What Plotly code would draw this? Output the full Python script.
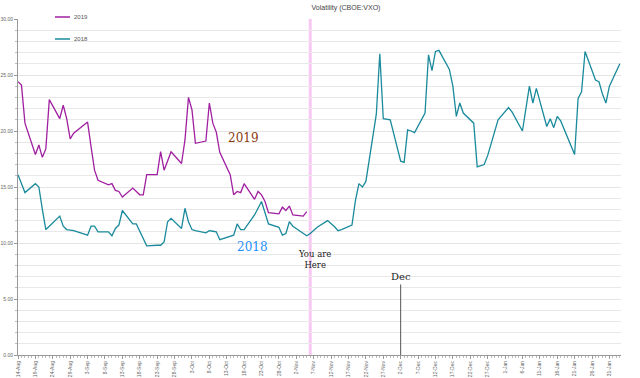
import pandas as pd
import plotly.graph_objects as go

# ---- data -------------------------------------------------------------
holidays = ["2019-09-02", "2019-11-28", "2019-12-25", "2020-01-01", "2020-01-20"]
trade_days = [d for d in pd.bdate_range("2019-08-14", "2020-02-03")
              if d.strftime("%Y-%m-%d") not in holidays]

vxo_2019 = [
    24.4, 24.1, 20.7, 17.9, 18.75, 17.65, 18.4, 22.8, 21.1, 22.3, 21.1, 19.3, 19.8,
    20.8, 18.6, 16.5, 15.6, 15.2, 15.3, 14.7, 14.6, 14.1, 14.9, 14.6, 14.3, 14.3,
    16.1, 16.1, 18.15, 16.5, 17.3, 18.15, 17.1,
    19.2, 23.0, 21.9, 18.9, 19.1, 22.5, 20.7, 19.9, 18.1, 16.1, 14.3, 14.6, 14.5,
    15.3, 13.9, 14.6, 14.3, 13.7, 12.7, 12.6, 13.2, 12.9, 13.3,
    12.5, 12.4, 12.8,
]

vxo_2018 = [
    16.1, 15.3, 14.5, 15.3, 15.0, 13.0, 11.2, 11.5, 12.4, 11.5, 11.2, 11.15, 11.1,
    10.7, 11.5, 11.5, 11.0, 11.0, 10.65, 11.3, 11.6, 12.9, 11.7, 11.7, 11.0, 10.3,
    9.75, 9.8, 9.8, 10.1, 11.9, 12.2, 11.3,
    13.1, 11.9, 11.2, 11.1, 10.9, 11.1, 11.05, 11.0, 10.3, 10.6, 10.7, 11.7, 11.2,
    11.2, 12.5, 13.1, 13.7, 12.7, 11.7, 11.4, 10.7, 10.85, 11.9,
    11.5, 10.8, 10.65, 10.85, 11.1, 11.4, 12.0, 11.75, 11.45, 11.1, 11.2, 11.6,
    13.8, 15.3, 15.0, 15.5, 21.5, 26.9, 21.1, 21.0,
    17.3, 17.2, 20.1, 20.0, 19.85, 21.6, 26.8, 25.4, 27.1, 27.2, 25.5, 24.0, 21.3,
    22.5, 21.6, 20.7, 16.8, 17.0, 17.8, 21.0, 21.4,
    22.1, 21.7, 20.0, 22.0, 24.0, 22.5, 23.8, 20.4, 21.1, 20.3, 21.3, 20.9, 17.9,
    22.9, 23.5, 27.1, 24.55, 24.4, 23.3, 22.5, 24.0,
    26.0,
]

series_names = ["2019", "2018"]
series_colors = ["#A01FA0", "#1A8A9C"]
series_values = [vxo_2019, vxo_2018]
you_are_here = "2019-11-06"
dec_marker = "2019-12-02"

# ---- figure -----------------------------------------------------------
W, H = 640, 378
ML, MR, MT, MB = 18, 19, 19, 23
PW, PH = W - ML - MR, H - MT - MB


def px_x(px):
    return (px - ML) / PW


def px_y(py):
    return (H - MB - py) / PH


fig = go.Figure()
for name, color, vals in zip(series_names, series_colors, series_values):
    fig.add_trace(go.Scatter(
        x=trade_days[:len(vals)], y=vals, mode="lines", name=name,
        line=dict(color=color, width=1.3)))

# legend (drawn in the top-left corner like the original)
for i, (name, color) in enumerate(zip(series_names, series_colors)):
    ly = px_y(17 + 22 * i)
    fig.add_shape(type="line", xref="paper", yref="paper",
                  x0=px_x(55), x1=px_x(70), y0=ly, y1=ly,
                  line=dict(color=color, width=1.5))
    fig.add_annotation(xref="paper", yref="paper", x=px_x(72), y=ly, text=name,
                       showarrow=False, xanchor="left", yanchor="middle",
                       font=dict(size=6, color="#555555"))

fig.add_shape(type="line", xref="x", yref="y", x0=you_are_here, x1=you_are_here,
              y0=0, y1=30.3, line=dict(color="#F7C8F2", width=3), layer="below")
fig.add_shape(type="line", xref="x", yref="y", x0=dec_marker, x1=dec_marker,
              y0=0, y1=6.3, line=dict(color="#555555", width=1))

serif = "DejaVu Serif"
fig.add_annotation(x="2019-10-17 18:00", y=19.4, text="2019", showarrow=False,
                   font=dict(family=serif, size=12, color="#8B3A10"))
fig.add_annotation(x="2019-10-20 12:00", y=9.6, text="2018", showarrow=False,
                   font=dict(family=serif, size=12, color="#1E8FFF"))
fig.add_annotation(x="2019-11-07 08:00", y=8.5, text="You are<br>Here", showarrow=False,
                   font=dict(family=serif, size=8.5, color="#222222"))
fig.add_annotation(x=dec_marker, y=7.0, text="Dec", showarrow=False,
                   font=dict(family=serif, size=10, color="#222222"))

fig.update_layout(
    width=W, height=H,
    template="none",
    paper_bgcolor="white", plot_bgcolor="white",
    margin=dict(l=ML, r=MR, t=MT, b=MB),
    font=dict(family="Liberation Sans", size=6, color="#555555"),
    title=dict(text="Volatility (CBOE:VXO)", x=346 / W, xref="container",
               xanchor="center", y=1 - 8 / H, yref="container", yanchor="middle",
               font=dict(size=7, color="#444444")),
    showlegend=False,
    xaxis=dict(
        type="date", range=["2019-08-14", "2020-02-03 08:00"],
        tick0="2019-08-14", dtick=5 * 86400000, tickformat="%-d-%b",
        tickangle=-90, tickfont=dict(size=5, color="#666666"),
        ticks="outside", ticklen=3, tickcolor="#999999",
        showgrid=False, showline=True, linecolor="#999999", linewidth=1,
        zeroline=False, automargin=False,
        minor=dict(dtick=86400000, ticks="outside", ticklen=1.5, tickcolor="#bbbbbb",
                   showgrid=False),
    ),
    yaxis=dict(
        range=[0, 30], dtick=5, tickformat=".2f",
        tickfont=dict(size=5, color="#666666"),
        ticks="outside", ticklen=3, tickcolor="#999999",
        showgrid=True, gridcolor="#e4e4e4", gridwidth=1,
        showline=True, linecolor="#999999", linewidth=1,
        zeroline=False, automargin=False,
        minor=dict(dtick=1, ticks="outside", ticklen=2, tickcolor="#bbbbbb",
                   showgrid=True, gridcolor="#e8e8e8", gridwidth=1),
    ),
)

fig.write_html("out.html",
               config={"displayModeBar": False},
               post_script="document.body.style.margin='0';"
                           "document.body.style.overflow='hidden';")
